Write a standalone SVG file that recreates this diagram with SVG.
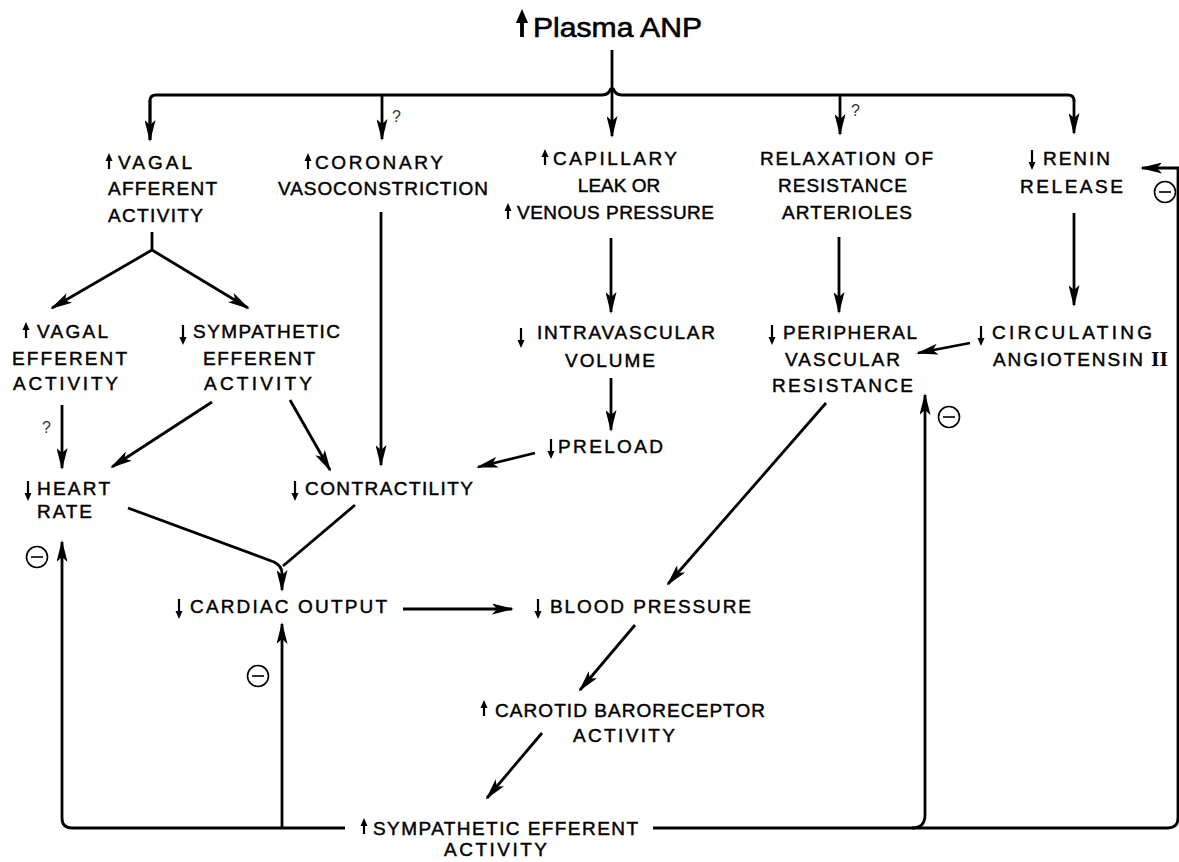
<svg xmlns="http://www.w3.org/2000/svg" xmlns:xlink="http://www.w3.org/1999/xlink" width="1179" height="862" viewBox="0 0 1179 862">
<style>
text{font-family:"Liberation Sans",Arial,sans-serif;font-size:19px;fill:#000;stroke:#000;stroke-width:0.45}
.t{font-size:28px;stroke-width:0.6}
.q{font-size:16px;fill:#333;stroke:none}
.c{fill:none;stroke:#000;stroke-width:2.8}
.cm circle{fill:none;stroke:#000;stroke-width:1.6}
.cm line{stroke:#000;stroke-width:1.6}
</style>
<defs>
<marker id="ah" viewBox="0 0 22 11" refX="20" refY="5.5" markerWidth="22" markerHeight="11" markerUnits="userSpaceOnUse" orient="auto"><path d="M0,0L22,5.5L0,11L5,5.5z"/></marker>
<g id="ua"><path d="M0,16V6" stroke="#000" stroke-width="2.2"/><path d="M-3.5,8L0,0L3.5,8z"/></g>
<g id="da"><path d="M0,0V13" stroke="#000" stroke-width="2.2"/><path d="M-3.5,12L0,20L3.5,12z"/></g>
<g id="minus" class="cm"><circle cx="0" cy="0" r="10.5"/><line x1="-6" y1="0" x2="6" y2="0"/></g>
</defs>
<rect width="1179" height="862" fill="#fff"/>

<g id="connectors">
<path class="c" d="M612,50V136" marker-end="url(#ah)"/>
<path class="c" d="M150,140V101Q150,95 156,95H602Q609,95 611,88M613,88Q615,95 622,95H1068Q1074,95 1074,101"/>
<path class="c" d="M150,100V140" marker-end="url(#ah)"/>
<path class="c" d="M1074,100V133" marker-end="url(#ah)"/>
<path class="c" d="M382,95V139" marker-end="url(#ah)"/>
<text class="q" x="392" y="122">?</text>
<path class="c" d="M840,95V134" marker-end="url(#ah)"/>
<text class="q" x="851" y="116">?</text>

<path class="c" d="M152,232V250"/>
<path class="c" d="M152,250L52,308" marker-end="url(#ah)"/>
<path class="c" d="M152,250L248,308" marker-end="url(#ah)"/>
<path class="c" d="M62,405V468" marker-end="url(#ah)"/>
<text class="q" x="42" y="433">?</text>
<path class="c" d="M212,402L112,467" marker-end="url(#ah)"/>
<path class="c" d="M290,400L330,470" marker-end="url(#ah)"/>
<path class="c" d="M381,212V465" marker-end="url(#ah)"/>
<path class="c" d="M611,238V312" marker-end="url(#ah)"/>
<path class="c" d="M611,378V430" marker-end="url(#ah)"/>
<path class="c" d="M535,453L478,467" marker-end="url(#ah)"/>
<path class="c" d="M839,237V312" marker-end="url(#ah)"/>
<path class="c" d="M1074,213V305" marker-end="url(#ah)"/>
<path class="c" d="M970,343L918,353" marker-end="url(#ah)"/>
<path class="c" d="M128,508L274,562Q282,566 282,573V590" marker-end="url(#ah)"/>
<path class="c" d="M355,505L283,566"/>
<path class="c" d="M403,609H512" marker-end="url(#ah)"/>
<path class="c" d="M826,403L668,584" marker-end="url(#ah)"/>
<path class="c" d="M635,625L580,690" marker-end="url(#ah)"/>
<path class="c" d="M542,733L487,798" marker-end="url(#ah)"/>

<path class="c" d="M345,828H72Q62,828 62,818V542" marker-end="url(#ah)"/>
<path class="c" d="M282,828V624" marker-end="url(#ah)"/>
<path class="c" d="M653,828H1168Q1178,828 1178,818V168H1142" marker-end="url(#ah)"/>
<path class="c" d="M912,828Q925,828 925,815V395" marker-end="url(#ah)"/>

<use href="#minus" x="1165" y="192"/>
<use href="#minus" x="949" y="417"/>
<use href="#minus" x="37" y="557"/>
<use href="#minus" x="258" y="676"/>
</g>

<g id="plasma_anp">
<use href="#ua" transform="translate(522,9) scale(1.75)"/>
<text class="t" x="533" y="37" textLength="169" lengthAdjust="spacingAndGlyphs">Plasma ANP</text>
</g>

<g id="vagal_afferent">
<use href="#ua" x="109" y="153"/>
<text x="118" y="169" textLength="74">VAGAL</text>
<text x="108" y="195" textLength="109">AFFERENT</text>
<text x="108" y="222" textLength="95">ACTIVITY</text>
</g>

<g id="coronary">
<use href="#ua" x="308" y="153"/>
<text x="315" y="169" textLength="128">CORONARY</text>
<text x="278" y="195" textLength="210">VASOCONSTRICTION</text>
</g>

<g id="capillary">
<use href="#ua" x="545" y="149"/>
<text x="553" y="165" textLength="124">CAPILLARY</text>
<text x="619" y="192" text-anchor="middle">LEAK OR</text>
<use href="#ua" x="508" y="203"/>
<text x="517" y="219" textLength="197">VENOUS PRESSURE</text>
</g>

<g id="relaxation">
<text x="760" y="165" textLength="173">RELAXATION OF</text>
<text x="778" y="192" textLength="129">RESISTANCE</text>
<text x="782" y="219" textLength="130">ARTERIOLES</text>
</g>

<g id="renin">
<use href="#da" x="1032" y="150"/>
<text x="1043" y="165" textLength="67">RENIN</text>
<text x="1020" y="193" textLength="103">RELEASE</text>
</g>

<g id="vagal_efferent">
<use href="#ua" x="26" y="322"/>
<text x="37" y="338" textLength="71">VAGAL</text>
<text x="12" y="365" textLength="115">EFFERENT</text>
<text x="13" y="390" textLength="105">ACTIVITY</text>
</g>

<g id="sympathetic_efferent_top">
<use href="#da" x="183" y="325"/>
<text x="193" y="338" textLength="147">SYMPATHETIC</text>
<text x="203" y="365" textLength="112">EFFERENT</text>
<text x="204" y="390" textLength="108">ACTIVITY</text>
</g>

<g id="intravascular">
<use href="#da" x="521" y="328"/>
<text x="537" y="339" textLength="178">INTRAVASCULAR</text>
<text x="565" y="367" textLength="90">VOLUME</text>
</g>

<g id="peripheral">
<use href="#da" x="772" y="325"/>
<text x="783" y="339" textLength="134">PERIPHERAL</text>
<text x="785" y="366" textLength="115">VASCULAR</text>
<text x="772" y="392" textLength="141">RESISTANCE</text>
</g>

<g id="angiotensin">
<use href="#da" x="981" y="326"/>
<text x="992" y="339" textLength="160">CIRCULATING</text>
<text x="993" y="366" textLength="150">ANGIOTENSIN</text>
<text x="1151" y="366" style="font-family:'Liberation Serif',serif;font-weight:bold;font-size:20px;stroke:none" textLength="17" lengthAdjust="spacingAndGlyphs">II</text>
</g>

<g id="heart_rate">
<use href="#da" x="28" y="481"/>
<text x="37" y="495" textLength="73">HEART</text>
<text x="37" y="518" textLength="55">RATE</text>
</g>

<g id="preload">
<use href="#da" x="551" y="439"/>
<text x="558" y="453" textLength="105">PRELOAD</text>
</g>

<g id="contractility">
<use href="#da" x="295" y="481"/>
<text x="305" y="495" textLength="168">CONTRACTILITY</text>
</g>

<g id="cardiac_output">
<use href="#da" x="179" y="599"/>
<text x="190" y="613" textLength="197">CARDIAC OUTPUT</text>
</g>

<g id="blood_pressure">
<use href="#da" x="538" y="599"/>
<text x="550" y="613" textLength="201">BLOOD PRESSURE</text>
</g>

<g id="carotid">
<use href="#ua" x="484" y="700"/>
<text x="495" y="717" textLength="270">CAROTID BARORECEPTOR</text>
<text x="573" y="742" textLength="102">ACTIVITY</text>
</g>

<g id="sympathetic_efferent_bottom">
<use href="#ua" x="364" y="818"/>
<text x="373" y="835" textLength="265">SYMPATHETIC EFFERENT</text>
<text x="444" y="856" textLength="103">ACTIVITY</text>
</g>
</svg>
